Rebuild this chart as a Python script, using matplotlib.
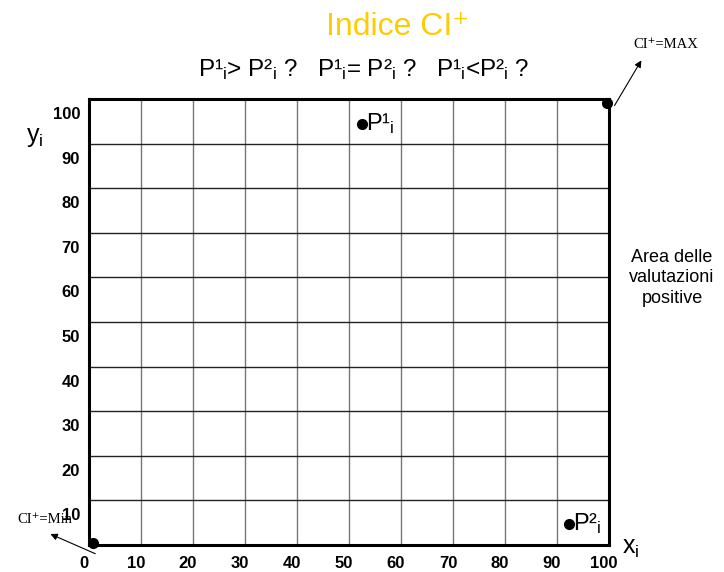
import matplotlib
matplotlib.use("Agg")
import matplotlib.pyplot as plt
from matplotlib.transforms import ScaledTranslation

plt.rcParams['font.family'] = ['Liberation Sans', 'DejaVu Sans']
plt.rcParams['mathtext.fontset'] = 'custom'
plt.rcParams['mathtext.rm'] = 'Liberation Sans'
plt.rcParams['mathtext.it'] = 'Liberation Sans'

# dati
xticks = [0, 10, 20, 30, 40, 50, 60, 70, 80, 90, 100]
yticks = [10, 20, 30, 40, 50, 60, 70, 80, 90, 100]
punti_x = [52.5, 92.3]          # P1_i, P2_i
punti_y = [94.4, 4.7]
punti_lab = ["P\u00b9$_{i}$", "P\u00b2$_{i}$"]
estremi_x = [0.8, 99.6]         # CI+ = Min, CI+ = MAX
estremi_y = [0.4, 99.2]

fig = plt.figure(figsize=(7.24, 5.72), dpi=100)
ax = fig.add_axes([0.1229, 0.0472, 0.7182, 0.7797])
ax.set_xlim(0, 100)
ax.set_ylim(0, 100)
ax.set_xticks(xticks)
ax.set_yticks(yticks)
ax.tick_params(length=0, labelsize=12)
for lab in ax.get_xticklabels() + ax.get_yticklabels():
    lab.set_fontweight('bold')
# etichette spostate come nell'originale
for lab in ax.get_yticklabels():
    lab.set_transform(lab.get_transform() + ScaledTranslation(-0.04, -0.14, fig.dpi_scale_trans))
for lab in ax.get_xticklabels():
    lab.set_transform(lab.get_transform() + ScaledTranslation(-0.05, -0.06, fig.dpi_scale_trans))

ax.xaxis.grid(True, color='#777777', lw=1)
ax.yaxis.grid(True, color='#222222', lw=1)
ax.set_axisbelow(True)
for s in ax.spines.values():
    s.set_linewidth(2.2)
    s.set_color('black')

# punti
ax.plot(punti_x, punti_y, 'o', color='black', ms=7, clip_on=False)
for x, y, t in zip(punti_x, punti_y, punti_lab):
    ax.annotate(t, (x, y), xytext=(3, 0), textcoords='offset points',
                fontsize=17, va='center', ha='left')
ax.plot(estremi_x, estremi_y, 'o', color='black', ms=7, clip_on=False, zorder=5)

# frecce
serif = ['Liberation Serif', 'DejaVu Serif']
ax.annotate("", xy=(106.5, 109.2), xytext=(100.8, 98.0), annotation_clip=False,
            arrowprops=dict(arrowstyle='-|>', color='black', lw=0.8, mutation_scale=10))
ax.text(111.0, 112.3, "CI\u207a=MAX", family=serif, fontsize=10.5, ha='center', va='center')
ax.annotate("", xy=(-7.9, 2.7), xytext=(1.7, -2.2), annotation_clip=False,
            arrowprops=dict(arrowstyle='-|>', color='black', lw=0.8, mutation_scale=10))
ax.text(-8.5, 5.8, "CI\u207a=Min", family=serif, fontsize=10.5, ha='center', va='center')

# assi
ax.text(-10.5, 91.5, r"y$_{i}$", fontsize=18, ha='center', va='center')
ax.text(102.5, -0.6, r"x$_{i}$", fontsize=18, ha='left', va='center')

# titoli
fig.text(398 / 724, 1 - 27 / 572, "Indice CI\u207a", color='#FFCC00', fontsize=23,
         ha='center', va='center')
s1, s2 = punti_lab
fig.text(364 / 724, 1 - 70 / 572,
         f"{s1}> {s2} ?   {s1}= {s2} ?   {s1}<{s2} ?",
         fontsize=17.5, ha='center', va='center')
fig.text(672 / 724, 1 - 278 / 572, "Area delle\nvalutazioni\npositive", fontsize=13,
         ha='center', va='center', linespacing=1.3)

fig.savefig("out.png", dpi=100, facecolor='white')
